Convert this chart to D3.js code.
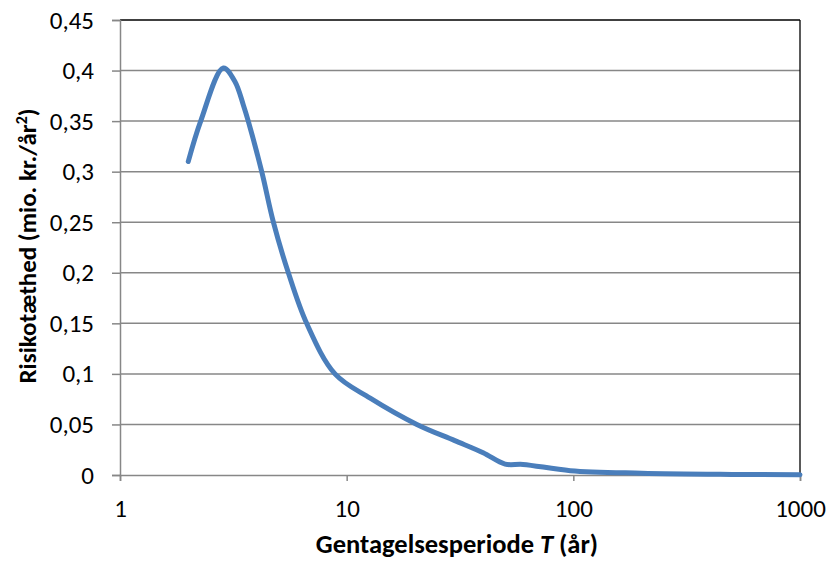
<!DOCTYPE html>
<html><head><meta charset="utf-8">
<script src="https://cdn.jsdelivr.net/npm/d3@7"></script>
<style>body{margin:0;background:#fff}svg{display:block}</style>
</head><body>
<script>
const periods = [2, 2.27, 2.856, 3.217, 3.5, 3.68, 4.22, 4.75, 5.53, 6.66, 8.88, 12.7, 20.4, 30, 40, 50, 60, 97, 200, 500, 1000];
const density = [0.31, 0.35, 0.4025, 0.389, 0.366, 0.35, 0.30, 0.25, 0.20, 0.15, 0.10, 0.076, 0.05, 0.034, 0.022, 0.0108, 0.0105, 0.0043, 0.0018, 0.0006, 0.0002];
const xTicks = [1, 10, 100, 1000];
const yTicks = [0, 0.05, 0.1, 0.15, 0.2, 0.25, 0.3, 0.35, 0.4, 0.45];

const W = 827, H = 562;
const m = {l:120, r:800, t:20, b:475};
const font = "Carlito, Lato, 'Open Sans', sans-serif";
const svg = d3.select("body").append("svg").attr("width", W).attr("height", H);
const x = d3.scaleLog().domain([1, 1000]).range([m.l, m.r]);
const y = d3.scaleLinear().domain([0, 0.45]).range([m.b, m.t]);

// gridlines
svg.append("g").selectAll("line").data(yTicks.filter(d => d > 0 && d < 0.45)).join("line")
  .attr("x1", m.l).attr("x2", m.r).attr("y1", d => y(d)).attr("y2", d => y(d))
  .attr("stroke", "#878787").attr("stroke-width", 1.5);
// top & right border
svg.append("line").attr("x1", m.l).attr("x2", m.r).attr("y1", m.t).attr("y2", m.t).attr("stroke", "#000").attr("stroke-width", 1.3);
svg.append("line").attr("x1", m.r).attr("x2", m.r).attr("y1", m.t).attr("y2", m.b).attr("stroke", "#000").attr("stroke-width", 1.3);

const fmt = d => String(+d.toFixed(2)).replace(".", ",");
const yAxis = svg.append("g").attr("transform", `translate(${m.l},0)`)
  .call(d3.axisLeft(y).tickValues(yTicks).tickFormat(fmt).tickSize(8).tickPadding(18));
const xAxis = svg.append("g").attr("transform", `translate(0,${m.b})`)
  .call(d3.axisBottom(x).tickValues(xTicks).tickFormat(d3.format("d")).tickSize(6).tickPadding(18));
[yAxis, xAxis].forEach(g => {
  g.select(".domain").attr("stroke", "#878787").attr("stroke-width", 1.5);
  g.selectAll(".tick line").attr("stroke", "#878787").attr("stroke-width", 1.5);
  g.selectAll("text").attr("font-family", font).attr("font-size", 25).attr("fill", "#000");
});

// line
const line = d3.line().x((d, i) => x(periods[i])).y(d => y(d)).curve(d3.curveCatmullRom.alpha(0.5));
svg.append("path").datum(density).attr("d", line)
  .attr("fill", "none").attr("stroke", "#4A7EBB").attr("stroke-width", 5).attr("stroke-linecap", "round");

// titles
const xt = svg.append("text").attr("x", 457).attr("y", 553).attr("text-anchor", "middle")
  .attr("font-family", font).attr("font-size", 26.5).attr("font-weight", "bold");
xt.append("tspan").text("Gentagelsesperiode ");
xt.append("tspan").attr("font-style", "italic").text("T");
xt.append("tspan").text(" (år)");
const yt = svg.append("text").attr("transform", "translate(36,246) rotate(-90)").attr("text-anchor", "middle")
  .attr("font-family", font).attr("font-size", 25).attr("font-weight", "bold");
yt.append("tspan").text("Risikotæthed (mio. kr./år");
yt.append("tspan").attr("baseline-shift", "super").attr("font-size", 16).text("2");
yt.append("tspan").text(")");
</script>
</body></html>
